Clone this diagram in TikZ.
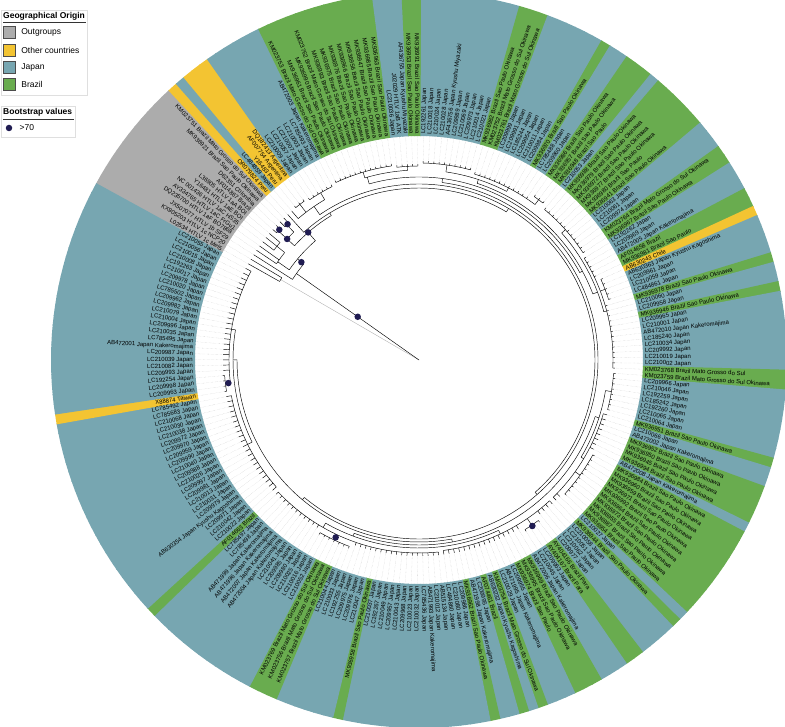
\documentclass[tikz,border=0pt]{standalone}
\usepackage{fontspec}
\setmainfont{Liberation Sans}
\usetikzlibrary{positioning}

\definecolor{og}{RGB}{172,172,172}
\definecolor{oc}{RGB}{243,196,50}
\definecolor{jp}{RGB}{119,166,177}
\definecolor{br}{RGB}{105,172,79}
\definecolor{bsfill}{RGB}{32,28,82}

% angle of leaf 1, angular step, radii
\def\thz{150.6}
\def\ths{1.5451}
\def\rin{224}
\def\rout{368}
\def\rlab{226}

% tips, clockwise from the outgroups
\def\leaflist{%
L02534 HTLV 1c Mel5/og,
KX905203 HTLV 1c NCP20/og,
JX507077 HTLV 1b SF29/og,
DQ235700 HTLV 1aF BO7868/og,
AY334765 HTLV 1aC FrGu1/og,
NC 001436 HTLV 1aC HS35/og,
Y16481 HTLV 1aE BOI/og,
L36905 HTLV 1aA BOI/og,
AF014867 Brazil/og,
D62351 Colombia/og,
MK936921 Brazil Sao Paulo Okinawa/og,
KM023751 Brazil Mato Grosso do Sul Okinawa/og,
OR079824 Peru/oc,
LC484859 Japan/jp,
Y16483 Peru/oc,
AF007754 Argentina/oc,
DQ182413 Argentina/oc,
LC210009 Japan/jp,
LC210057 Japan/jp,
LC210007 Japan/jp,
LC210003 Japan/jp,
LC785493 Japan/jp,
AB472003 Japan Kakeromajima/jp,
KM023753 Brazil Mato Grosso do Sul Okinawa/br,
MK936961 Brazil Sao Paulo Okinawa/br,
MK936990 Brazil Sao Paulo Okinawa/br,
KM023762 Brazil Mato Grosso do Sul Okinawa/br,
MK936993 Brazil Sao Paulo Okinawa/br,
MK936975 Brazil Sao Paulo Okinawa/br,
MK936976 Brazil Sao Paulo Okinawa/br,
MK936966 Brazil Sao Paulo Okinawa/br,
MK936956 Brazil Sao Paulo Okinawa/br,
MK936947 Brazil Sao Paulo Okinawa/br,
MK936985 Brazil Sao Paulo Okinawa/br,
MK936963 Brazil Sao Paulo Okinawa/br,
LC210036 Japan/jp,
J02029 HTLV 1aB ATK/jp,
AF436755 Japan Kyushu Miyazaki/jp,
MK936953 Brazil Sao Paulo Okinawa/br,
MK936991 Brazil Sao Paulo Okinawa/br,
LC192261 Japan/jp,
LC210018 Japan/jp,
LC210024 Japan/jp,
LC210028 Japan/jp,
AF436756 Japan Kyushu Miyazaki/jp,
LC209989 Japan/jp,
LC210069 Japan/jp,
LC209973 Japan/jp,
LC210014 Japan/jp,
LC210021 Japan/jp,
MK936982 Brazil Sao Paulo Okinawa/br,
KM023752 Brazil Mato Grosso do Sul Okinawa/br,
KM023761 Brazil Mato Grosso do Sul Okinawa/br,
LC209999 Japan/jp,
LC209991 Japan/jp,
LC185244 Japan/jp,
LC209954 Japan/jp,
LC210011 Japan/jp,
LC209984 Japan/jp,
MK936970 Brazil Sao Paulo Okinawa/br,
LC785488 Japan/jp,
LC209960 Japan/jp,
MK936986 Brazil Sao Paulo Okinawa/br,
MK936957 Brazil Sao Paulo Okinawa/br,
MK936948 Brazil Sao Paulo/br,
LC210053 Japan/jp,
MK936988 Brazil Sao Paulo Okinawa/br,
MK936979 Brazil Sao Paulo Okinawa/br,
MK936972 Brazil Sao Paulo Okinawa/br,
MK936977 Brazil Sao Paulo Okinawa/br,
MK936980 Brazil Sao Paulo/br,
MK936941 Brazil Sao Paulo Okinawa/br,
LC210063 Japan/jp,
LC210061 Japan/jp,
LC209974 Japan/jp,
KM023764 Brazil Mato Grosso do Sul Okinawa/br,
MK936967 Brazil Sao Paulo Okinawa/br,
LC192262 Japan/jp,
LC209969 Japan/jp,
AB472005 Japan Kakeromajima/jp,
AF014658 Brazil/br,
MK936981 Brazil Sao Paulo/br,
AB630243 Chile/oc,
AB630363 Japan Kyushu Kagoshima/jp,
LC209961 Japan/jp,
LC210059 Japan/jp,
LC484861 Japan/jp,
MK936978 Brazil Sao Paulo Okinawa/br,
LC210060 Japan/jp,
LC209958 Japan/jp,
MK936946 Brazil Sao Paulo Okinawa/br,
LC209965 Japan/jp,
LC210001 Japan/jp,
AB472010 Japan Kakeromajima/jp,
LC185240 Japan/jp,
LC210034 Japan/jp,
LC209992 Japan/jp,
LC210019 Japan/jp,
LC210002 Japan/jp,
KM023768 Brazil Mato Grosso do Sul/br,
KM023759 Brazil Mato Grosso do Sul Okinawa/br,
LC209966 Japan/jp,
LC210046 Japan/jp,
LC192259 Japan/jp,
LC185242 Japan/jp,
LC192260 Japan/jp,
LC210065 Japan/jp,
LC210064 Japan/jp,
MK936951 Brazil Sao Paulo Okinawa/br,
LC210066 Japan/jp,
AB472002 Japan Kakeromajima/jp,
MK936952 Brazil Sao Paulo Okinawa/br,
MK936950 Brazil Sao Paulo Okinawa/br,
MK936945 Brazil Sao Paulo Okinawa/br,
MK936994 Brazil Sao Paulo Okinawa/br,
AB472008 Japan Kakeromajima/jp,
MK936984 Brazil Sao Paulo Okinawa/br,
MK936960 Brazil Sao Paulo Okinawa/br,
MK936959 Brazil Sao Paulo Okinawa/br,
MK936971 Brazil Sao Paulo Okinawa/br,
MK936992 Brazil Sao Paulo Okinawa/br,
MK936964 Brazil Sao Paulo Okinawa/br,
MK936973 Brazil Sao Paulo Okinawa/br,
MK936955 Brazil Sao Paulo Okinawa/br,
MK936987 Brazil Sao Paulo Okinawa/br,
MK936954 Brazil Sao Paulo Okinawa/br,
LC210027 Japan/jp,
MK936944 Brazil Sao Paulo Okinawa/br,
LC210058 Japan/jp,
LC210051 Japan/jp,
LC210062 Japan/jp,
LC209977 Japan/jp,
AY404166 Brazil Para/br,
AY404167 Brazil Para/br,
LC209953 Japan/jp,
LC210045 Japan/jp,
AB472006 Japan Kakeromajima/jp,
MK936969 Brazil Sao Paulo Okinawa/br,
MK936995 Brazil Sao Paulo Okinawa/br,
MK936974 Brazil Sao Paulo/br,
LC209955 Japan/jp,
AB471995 Japan Kakeromajima/jp,
LC210029 Japan/jp,
KM023754 Brazil Mato Grosso do Sul Okinawa/br,
AB630232 Japan Kyushu Kagoshima/jp,
AF074461 Brazil/br,
LC209995 Japan/jp,
AB471998 Japan Kakeromajima/jp,
MK936962 Brazil Sao Paulo Okinawa/br,
LC209986 Japan/jp,
LC210080 Japan/jp,
LC484860 Japan/jp,
AB515134 Japan/jp,
LC210012 Japan/jp,
AB471993 Japan Kakeromajima/jp,
LC785436 Japan/jp,
LC210032 Japan/jp,
LC210023 Japan/jp,
LC209968 Japan/jp,
LC210043 Japan/jp,
LC209957 Japan/jp,
LC210049 Japan/jp,
LC192267 Japan/jp,
LC210037 Japan/jp,
MK936958 Brazil Sao Paulo Okinawa/br,
LC210047 Japan/jp,
LC209976 Japan/jp,
LC209975 Japan/jp,
LC192255 Japan/jp,
LC210033 Japan/jp,
LC210044 Japan/jp,
KM023757 Brazil Mato Grosso do Sul Okinawa/br,
KM023756 Brazil Mato Grosso do Sul Okinawa/br,
KM023769 Brazil Mato Grosso do Sul Okinawa/br,
LC210052 Japan/jp,
LC210016 Japan/jp,
LC210025 Japan/jp,
LC209980 Japan/jp,
LC209985 Japan/jp,
LC210041 Japan/jp,
AB472004 Japan Kakeromajima/jp,
AB472007 Japan Kakeromajima/jp,
AB471996 Japan Kakeromajima/jp,
AB471999 Japan Kakeromajima/jp,
LC785498 Japan/jp,
LC785497 Japan/jp,
AF014663 Brazil/br,
LC210022 Japan/jp,
LC210042 Japan/jp,
LC209971 Japan/jp,
AB630354 Japan Kyushu Kagoshima/jp,
LC209979 Japan/jp,
LC210031 Japan/jp,
LC210013 Japan/jp,
LC209981 Japan/jp,
LC209997 Japan/jp,
LC210026 Japan/jp,
LC209988 Japan/jp,
LC210040 Japan/jp,
LC209990 Japan/jp,
LC209959 Japan/jp,
LC209970 Japan/jp,
LC209972 Japan/jp,
LC210038 Japan/jp,
LC210030 Japan/jp,
LC210068 Japan/jp,
LC785683 Japan/jp,
LC785492 Japan/jp,
X88874 Taiwan/oc,
LC209963 Japan/jp,
LC209998 Japan/jp,
LC192254 Japan/jp,
LC209993 Japan/jp,
LC210082 Japan/jp,
LC210039 Japan/jp,
LC209987 Japan/jp,
AB472001 Japan Kakeromajima/jp,
LC785495 Japan/jp,
LC210035 Japan/jp,
LC209996 Japan/jp,
LC210004 Japan/jp,
LC210079 Japan/jp,
LC209982 Japan/jp,
LC209962 Japan/jp,
LC785502 Japan/jp,
LC210020 Japan/jp,
LC209978 Japan/jp,
LC210017 Japan/jp,
LC192263 Japan/jp,
LC210008 Japan/jp,
LC210015 Japan/jp,
LC210056 Japan/jp,
LC210055 Japan/jp%
}

\begin{document}
\begin{tikzpicture}[
  x=1pt, y=1pt,
  branch/.style={line width=0.45pt, black},
  faint/.style={line width=0.4pt, gray!60},
  leader/.style={line width=0.3pt, gray!55, densely dotted},
  tiplabel/.style={inner sep=0pt, font=\fontsize{6}{7}\selectfont},
  bsdot/.style={circle, fill=bsfill, inner sep=0pt, minimum size=6.5pt},
  legbox/.style={draw=gray!25, fill=white, line width=0.5pt, inner sep=0pt},
  legtitle/.style={inner sep=0pt, font=\fontsize{8.5}{10}\selectfont\bfseries},
  legtext/.style={inner sep=0pt, font=\fontsize{8.5}{10}\selectfont},
  legrule/.style={line width=0.7pt, black!80},
  swatch/.style={draw=gray!60!black, line width=0.3pt, minimum size=12pt, inner sep=0pt}
]
\useasboundingbox (0,0) rectangle (785,-727);
\clip (0,0) rectangle (785,-727);

\begin{scope}[shift={(419,-360)}]

% Colour ring
\foreach \lab/\col [count=\i] in \leaflist {
  \pgfmathsetmacro\ang{\thz-(\i-1)*\ths}
  \pgfmathsetmacro\aa{\ang+\ths/2+0.08}
  \pgfmathsetmacro\ab{\ang-\ths/2-0.08}
  \fill[\col] (\aa:\rin) arc[start angle=\aa, end angle=\ab, radius=\rin]
    -- (\ab:\rout) arc[start angle=\ab, end angle=\aa, radius=\rout] -- cycle;
}

% Tip labels
\foreach \lab/\col [count=\i] in \leaflist {
  \pgfmathsetmacro\ang{\thz-(\i-1)*\ths}
  \pgfmathtruncatemacro\lft{or(\ang>90,\ang<-90)}
  \ifnum\lft=1
    \pgfmathsetmacro\rot{\ang+180}
    \node[tiplabel, anchor=east, rotate=\rot] (lab\i) at (\ang:\rlab) {\lab};
  \else
    \node[tiplabel, anchor=west, rotate=\ang] (lab\i) at (\ang:\rlab) {\lab};
  \fi
}

% Terminal branches and leaders (first/last tip/attach radius)
\foreach \a/\b/\r in {1/2/160, 3/3/150, 4/5/172, 6/8/182, 9/10/191, 11/12/189,
    13/13/172, 14/14/186, 15/17/196, 18/23/194, 24/35/196, 36/40/194,
    41/50/197, 51/62/194, 63/65/200, 66/77/196, 78/82/194, 83/87/199,
    88/100/194, 101/108/195, 109/116/192, 117/126/198, 127/132/192,
    133/136/200, 137/152/192, 153/169/193, 170/176/199, 177/187/193,
    188/208/191, 209/212/195, 213/233/190} {
  \foreach \i in {\a,...,\b} {
    \pgfmathsetmacro\ang{\thz-(\i-1)*\ths}
    \pgfmathsetmacro\tip{max(\r+2,196)+mod(5*\i,5)}
    \draw[leader] (\ang:\tip) -- (\ang:\rin);
    \draw[branch] (\ang:\r) -- (\ang:\tip);
  }
}

% HTLV-1c pair hangs from the root
\pgfmathsetmacro\am{\thz-0.5*\ths}
\pgfmathsetmacro\ap{\thz}
\pgfmathsetmacro\aq{\thz-\ths}
\draw[faint] (0,0) -- (\am:160);
\draw[branch] (\ap:160) arc[start angle=\ap, end angle=\aq, radius=160];

% Internal nodes (arc from/arc to/stem/radius/parent radius)
\foreach \p/\q/\m/\r/\pr in {
    3/7.7/4.75/150/0, 4.5/13.7/7.7/158/150, 4/7/4.5/172/158, 6/8/7/182/172,
    9.5/20/13.7/169/158, 9.5/11.5/9.5/179/169, 9/10/9.5/191/179, 11/12/11.5/189/179,
    13/60/20/172/169, 18/130/60/176/172, 14/20.5/18/186/176, 15/17/16/196/186,
    18/23/20.5/194/186, 45/182.5/130/179/176,
    30/80/45/183/179, 29.5/38/30/190/183, 24/35/29.5/196/190, 36/40/38/194/190,
    52/85/80/186/183, 45.5/58/52/190/186, 41/50/45.5/197/190, 51/64/58/194/190,
    63/65/64/200/194, 71.5/89/85/191/186, 66/77/71.5/196/191, 78/100/89/194/191,
    83/87/85/199/194,
    150/215/182.5/182/179, 110/170/150/185/182, 104.5/118.5/110/189/185,
    101/108/104.5/195/189, 109/128/118.5/192/189, 117/126/121.5/198/192,
    140.5/176/170/188/185, 129/152/140.5/192/188, 133/136/134.5/200/192,
    153/187/176/193/188, 170/176/173/199/193,
    198/221/215/186/182, 188/208/198/191/186, 210.5/233/221/190/186,
    209/212/210.5/195/190} {
  \pgfmathsetmacro\ap{\thz-(\p-1)*\ths}
  \pgfmathsetmacro\aq{\thz-(\q-1)*\ths}
  \pgfmathsetmacro\am{\thz-(\m-1)*\ths}
  \draw[branch] (\ap:\r) arc[start angle=\ap, end angle=\aq, radius=\r];
  \draw[branch] (\am:\pr) -- (\am:\r);
}

% Bootstrap support > 70
\foreach \r/\m [count=\k] in {75/4.75, 153/7.7, 169/13.7, 179/9.5, 191/9.8,
    189/11.7, 201/134.5, 196/173, 192/210.5} {
  \pgfmathsetmacro\am{\thz-(\m-1)*\ths}
  \node[bsdot] (bs\k) at (\am:\r) {};
}
\end{scope}

% Legend: geographical origin
\node[legbox, minimum width=86pt, minimum height=85pt, anchor=north west] (geobox) at (1,-10) {};
\node[legtitle, anchor=west] (geotitle) at (3,-16) {Geographical Origin};
\draw[legrule] (3,-22.5) -- (86,-22.5);
\node[swatch, fill=og] (swog) at (9,-32.5) {};
\node[legtext, right=6pt of swog] (txog) {Outgroups};
\node[swatch, fill=oc] (swoc) at (9,-50) {};
\node[legtext, right=6pt of swoc] (txoc) {Other countries};
\node[swatch, fill=jp] (swjp) at (9,-67.5) {};
\node[legtext, right=6pt of swjp] (txjp) {Japan};
\node[swatch, fill=br] (swbr) at (9,-84.5) {};
\node[legtext, right=6pt of swbr] (txbr) {Brazil};

% Legend: bootstrap
\node[legbox, minimum width=74pt, minimum height=31pt, anchor=north west] (bsbox) at (1,-106) {};
\node[legtitle, anchor=west] (bstitle) at (3,-112) {Bootstrap values};
\draw[legrule] (3,-119) -- (74,-119);
\node[bsdot] (bskey) at (9,-128) {};
\node[legtext, right=7pt of bskey] (bstext) {>70};

\end{tikzpicture}
\end{document}
